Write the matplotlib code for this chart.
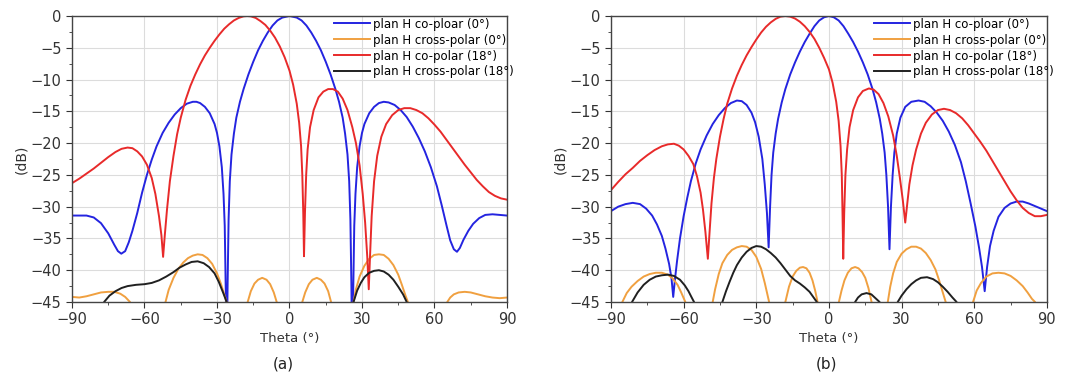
import numpy as np
import matplotlib.pyplot as plt
from matplotlib.ticker import MultipleLocator

# ---- panel (a) ----
a_co0_t = [-90, -87, -84, -81, -78, -75, -72.5, -71, -69.6, -68, -66.5, -65, -63, -61, -59, -57, -55, -52.5,
           -50, -47.5, -45, -42.5, -40, -38.5, -37, -35, -33, -31, -30, -29, -28, -27.3, -26.8, -26.3, -26,
           -25.6, -25.2, -24.7, -24, -23, -22, -20.5, -19, -17, -15, -13, -11, -9, -7, -5, -3, 0,
           3, 5, 7, 9, 11, 13, 15, 17, 19, 20.5, 22, 23, 24, 24.7, 25.2, 25.6, 26, 26.3, 26.8, 27.3,
           28, 29, 30, 31, 33, 35, 37, 39, 41, 43.5, 46, 48.5, 51, 53.5, 56, 58.5, 61, 63, 65, 66.5,
           68, 69.3, 70.5, 72, 74, 76, 78.5, 81, 84, 87, 90]
a_co0_db = [-31.4, -31.4, -31.4, -31.7, -32.6, -34.2, -36, -37, -37.4, -37, -35.6, -33.8, -31, -27.8, -25, -22.6, -20.5, -18.4,
            -16.8, -15.5, -14.5, -13.8, -13.5, -13.5, -13.7, -14.3, -15.3, -17, -18.4, -20.5, -23.8, -28, -33, -45, -55,
            -42, -32, -26, -21.8, -18.5, -16, -13.5, -11.5, -9.2, -7.2, -5.4, -3.9, -2.6, -1.5, -0.7, -0.25, 0,
            -0.25, -0.7, -1.5, -2.6, -3.9, -5.4, -7.2, -9.2, -11.5, -13.5, -16, -18.5, -21.8, -26, -32, -42, -55, -45, -33, -28,
            -23.8, -20.5, -18.4, -17, -15.3, -14.3, -13.7, -13.5, -13.6, -14, -14.8, -15.9, -17.4, -19.2, -21.3, -23.8, -26.8, -29.8, -33, -35.3,
            -36.7, -37.1, -36.5, -35.2, -33.8, -32.7, -31.8, -31.3, -31.2, -31.3, -31.4]

a_x0_t = [-90, -87, -84, -81, -78, -75, -72.5, -70, -68, -66, -64.5, -60,
          -52.5, -51.3, -50, -48, -46, -44, -42, -40, -38, -36, -34, -32, -30, -28.5, -27, -26, -25, -21,
          -18.5, -17.3, -16, -14.5, -13, -11.3, -9.5, -8, -6.5, -5.3, -4.3, 0,
          4.3, 5.3, 6.5, 8, 9.5, 11.3, 13, 14.5, 16, 17.2, 18.2, 22,
          25.5, 26.5, 27.5, 29, 31, 33, 35, 37, 39, 41, 43, 45, 46.5, 48, 49, 50, 57,
          64.3, 65.3, 66.5, 68, 70, 72.5, 75, 78, 81, 84, 87, 90]
a_x0_db = [-44.2, -44.3, -44.1, -43.8, -43.5, -43.4, -43.4, -43.7, -44.2, -45, -47, -60,
           -48, -45, -43.1, -41.2, -39.8, -38.8, -38.1, -37.7, -37.5, -37.6, -38.1, -39, -40.5, -42, -43.8, -45, -48, -60,
           -48, -45, -43.3, -42.1, -41.5, -41.2, -41.5, -42.2, -43.5, -45, -48, -60,
           -48, -45, -43.5, -42.2, -41.5, -41.2, -41.5, -42.1, -43.3, -45, -48, -60,
           -48, -45, -43, -41, -39.3, -38.2, -37.6, -37.5, -37.6, -38.2, -39.2, -40.7, -42.3, -44, -45, -48, -60,
           -48, -45, -44.3, -43.8, -43.5, -43.4, -43.5, -43.8, -44.1, -44.3, -44.4, -44.3]

a_co18_t = [-90, -87, -84, -81, -78, -75, -72, -69.5, -67, -65, -63, -61, -59, -57, -55.5, -54, -53, -52.3,
            -51.6, -50.7, -49.5, -48, -46.5, -45, -43, -41, -39, -37, -35, -33, -31, -29, -27, -25, -23,
            -21, -19, -17.5, -16, -14, -12, -10, -8, -6, -4, -2, 0, 1.5, 3, 4, 4.8, 5.3, 5.7, 6, 6.4,
            6.9, 7.5, 8.5, 10, 12, 14, 16, 18, 20, 22, 24, 26, 27.5, 29, 30.3, 31.3, 32.2, 32.8, 33.3,
            34, 35, 36.3, 38, 40, 42.5, 45, 47.5, 50, 52.5, 55, 57.5, 60, 62.5, 65, 67.5, 70, 72.5,
            75, 77.5, 80, 82.5, 85, 87.5, 90]
a_co18_db = [-26.3, -25.6, -24.8, -24, -23.1, -22.2, -21.4, -20.9, -20.7, -20.8, -21.3, -22.1, -23.4, -25.5, -28, -31.5, -34.5, -37.9,
             -34.5, -30.5, -26, -22, -18.6, -16, -13.2, -11, -9.2, -7.6, -6.2, -5, -3.9, -2.9, -2.0, -1.3, -0.7,
             -0.3, -0.05, 0, -0.05, -0.3, -0.8, -1.4, -2.3, -3.4, -4.8, -6.5, -8.6, -10.8, -13.8, -16.8, -20.5, -25, -31, -37.8, -31,
             -25, -21, -17.5, -14.8, -12.8, -11.9, -11.5, -11.5, -11.9, -13, -14.8, -17.5, -20, -23.5, -28, -32.5, -38, -43, -38,
             -31.5, -26, -22, -19, -17, -15.6, -14.8, -14.5, -14.5, -14.8, -15.3, -16.1, -17.1, -18.2, -19.5, -20.8, -22.1, -23.4,
             -24.6, -25.8, -26.8, -27.7, -28.3, -28.7, -28.9]

a_x18_t = [-90, -80, -76.7, -74.5, -72, -69.5, -67, -63.5, -60, -57, -54, -51, -48, -45.5, -43, -40.5, -38,
           -35.5, -33.3, -31, -29.3, -27.5, -26, -25, -20,
           20, 25.5, 26.5, 28, 29.5, 31, 33, 35, 37, 39, 41, 43, 45, 47, 48.5, 50, 60, 90]
a_x18_db = [-55, -48, -45, -44, -43.3, -42.8, -42.5, -42.3, -42.2, -42, -41.6, -41, -40.3, -39.6, -39.1, -38.7, -38.6,
            -38.9, -39.5, -40.5, -41.8, -43.5, -45, -50, -60,
            -60, -48, -45, -43.2, -42, -41.1, -40.4, -40.1, -40, -40.2, -40.7, -41.5, -42.6, -43.8, -45, -48, -60, -60]

# ---- panel (b) ----
b_co0_t = [-90, -87, -84, -81, -78, -75.5, -73, -71, -69, -67.5, -66, -65, -64.3, -63.6, -62.7, -61.5, -60,
           -58.5, -57, -55, -53, -50.5, -48, -45.5, -43, -40.5, -38, -36, -34, -32, -30.5, -29, -27.5,
           -26.5, -25.6, -24.9, -24.3, -23.7, -23, -22, -21, -19.5, -18, -16, -14, -12, -10, -8, -6, -4,
           -2, 0, 2, 4, 6, 8, 10, 12, 14, 16, 18, 19.5, 21, 22, 23, 23.7, 24.4, 25, 25.6, 26.3, 27,
           28, 29.5, 31.5, 34, 37, 39.5, 42, 44.5, 47, 49.5, 52, 54.5, 56.5, 58.5, 60.5, 62, 63.2,
           64.3, 65.3, 66.5, 68, 70, 72.5, 75, 77.5, 80, 82.5, 85, 87.5, 90]
b_co0_db = [-30.7, -30, -29.6, -29.4, -29.6, -30.3, -31.4, -32.8, -34.6, -36.6, -39, -41.3, -44.2, -41.5, -38.5, -35, -31.5,
            -28.6, -26, -23.2, -21, -18.8, -17, -15.6, -14.5, -13.7, -13.3, -13.4, -14, -15.2, -16.7, -19, -22.5,
            -26.5, -31, -36.4, -30, -25, -21.5, -18.5, -16.2, -13.6, -11.5, -9.2, -7.3, -5.6, -4.1, -2.8, -1.6, -0.7,
            -0.2, 0, -0.2, -0.7, -1.6, -2.8, -4.1, -5.6, -7.3, -9.2, -11.5, -13.6, -16.2, -18.5, -21.5, -25, -30, -36.7, -30, -25, -21.5,
            -18.5, -16, -14.3, -13.5, -13.3, -13.5, -14.2, -15.2, -16.5, -18.2, -20.3, -23, -26, -29.5, -33.2, -36.5, -39.5,
            -43.3, -39.5, -36.2, -33.8, -31.6, -30.2, -29.5, -29.2, -29.2, -29.5, -29.9, -30.3, -30.7]

b_x0_t = [-90, -86.5, -85.3, -83.5, -81.5, -79, -76.5, -74, -71.5, -69, -66.5, -64.5, -62.5, -61, -59.3, -58.3, -53,
          -49, -48, -47, -45.5, -44, -42, -40, -38, -36, -34, -32, -30, -28, -26.5, -25.3, -24.7, -23.7, -21.3,
          -19, -18, -16.5, -15, -13.5, -12, -10.7, -9.3, -8, -6.8, -5.7, -4.7, -3.7, 0,
          3.1, 4.1, 5.2, 6.4, 7.8, 9.3, 10.8, 12.2, 13.7, 15, 16.3, 17.6, 18.6, 21,
          23.3, 24.3, 25.3, 26.5, 28, 30, 32, 34, 36, 38, 40, 42, 44, 45.5, 47, 48.2, 49.2, 54,
          58.5, 59.5, 61, 62.8, 65, 67.5, 70, 72.5, 75, 77.5, 80, 82, 83.8, 85.1, 86, 90]
b_x0_db = [-55, -48, -45, -43.6, -42.6, -41.7, -41, -40.6, -40.4, -40.4, -40.7, -41.3, -42.3, -43.5, -45, -48, -60,
           -48, -45, -43, -40.6, -38.9, -37.6, -36.8, -36.4, -36.2, -36.3, -36.8, -37.9, -39.8, -42, -44, -45, -48, -55,
           -48, -45, -42.6, -41, -40.1, -39.6, -39.5, -39.7, -40.4, -41.6, -43.2, -45, -48, -60,
           -48, -45, -43.2, -41.6, -40.4, -39.7, -39.5, -39.7, -40.3, -41.2, -42.8, -45, -48, -55,
           -48, -45, -42.6, -40.5, -38.7, -37.4, -36.7, -36.3, -36.3, -36.6, -37.3, -38.4, -39.9, -41.6, -43.5, -45, -48, -60,
           -48, -45, -43.2, -42, -41, -40.5, -40.4, -40.5, -40.9, -41.6, -42.5, -43.5, -44.5, -45, -48, -55]

b_co18_t = [-90, -87, -84, -81, -78, -75, -72, -69, -66.5, -64, -62, -60, -58, -56, -54.5, -53, -52, -51, -50,
            -49.2, -48.5, -47.5, -46.5, -45, -43.5, -42, -40, -38, -36, -34, -32, -30, -28, -26, -24, -22,
            -20, -18, -16, -14, -12, -10, -8, -6, -4, -2, 0, 1.5, 3, 4, 4.8, 5.3, 5.6, 5.9, 6.3, 6.8,
            7.5, 8.5, 10, 12, 14, 16.5, 18.5, 20.5, 22.5, 24.5, 26.5, 28, 29.3, 30.5, 31.5, 32.2, 33.2,
            34.5, 36, 38, 40, 42.5, 45, 47.5, 50, 52.5, 55, 57.5, 60, 62.5, 65, 67.5, 70, 72.5, 75,
            77.5, 80, 82.5, 85, 87.5, 90]
b_co18_db = [-27.4, -26.1, -24.9, -23.9, -22.8, -21.9, -21.1, -20.5, -20.2, -20.1, -20.4, -21, -22, -23.3, -25.2, -27.8, -30.5, -34, -38.2,
             -33.5, -29.5, -25.5, -22.5, -19, -16.2, -13.8, -11.4, -9.4, -7.7, -6.2, -4.9, -3.7, -2.6, -1.7, -1.0, -0.45,
             -0.1, 0, -0.1, -0.4, -0.9, -1.6, -2.5, -3.6, -5, -6.6, -8.4, -10.5, -13.5, -16.5, -20.5, -25, -31, -38.2, -31, -25,
             -21, -17.5, -14.8, -12.8, -11.8, -11.4, -11.6, -12.3, -13.7, -15.8, -18.8, -22, -25.5, -29, -32.5, -30, -26.5,
             -23.5, -21, -18.5, -16.8, -15.5, -14.8, -14.6, -14.8, -15.3, -16.1, -17.2, -18.5, -19.8, -21.2, -22.8, -24.4, -26, -27.6,
             -29, -30.2, -31, -31.5, -31.5, -31.3]

b_x18_t = [-90, -83, -81.3, -79, -76.5, -74, -71.5, -69, -66.5, -64, -61.5, -59.5, -58, -56.8, -55.7, -54.5, -50,
           -45, -44, -42.5, -41, -39.5, -38, -36, -34, -32, -30, -28, -26, -24, -22, -20, -18, -16, -14, -12,
           -10, -8, -6.5, -5, -4, 3,
           9.8, 10.8, 12, 13.5, 15.5, 17.5, 19.2, 20.9, 22, 25,
           27.4, 28.4, 30, 32, 34, 36, 38, 40.5, 43, 45, 47, 49, 51, 52.7, 54, 60, 90]
b_x18_db = [-55, -48, -45, -43.5, -42.3, -41.5, -41, -40.8, -40.7, -40.9, -41.5, -42.4, -43.3, -44.2, -45, -48, -60,
            -48, -45, -43.3, -41.8, -40.4, -39.2, -38, -37.1, -36.5, -36.2, -36.3, -36.7, -37.3, -38, -38.9, -39.9, -40.9, -41.6, -42.1,
            -42.7, -43.4, -44.2, -45, -48, -60,
            -48, -45, -44.3, -43.8, -43.6, -43.8, -44.4, -45, -48, -55,
            -48, -45, -44, -43, -42.2, -41.6, -41.2, -41.1, -41.4, -41.9, -42.6, -43.4, -44.3, -45, -48, -60, -60]

labels = ['plan H co-ploar (0°)', 'plan H cross-polar (0°)',
          'plan H co-polar (18°)', 'plan H cross-polar (18°)']
colors = ['#2424e0', '#f0a040', '#e82a2a', '#202020']

panels = [
    ('(a)', [(a_co0_t, a_co0_db), (a_x0_t, a_x0_db), (a_co18_t, a_co18_db), (a_x18_t, a_x18_db)]),
    ('(b)', [(b_co0_t, b_co0_db), (b_x0_t, b_x0_db), (b_co18_t, b_co18_db), (b_x18_t, b_x18_db)]),
]
ax_rects = [[0.0671, 0.2053, 0.4054, 0.7526], [0.5694, 0.2053, 0.4063, 0.7526]]
tag_x = [0.264, 0.770]

fig = plt.figure(figsize=(10.73, 3.8), dpi=100)
for (tag, series), rect, tx in zip(panels, ax_rects, tag_x):
    ax = fig.add_axes(rect)
    for (t, db), c, lab in zip(series, colors, labels):
        ax.plot(t, db, color=c, linewidth=1.4, label=lab)
    ax.set_xlim(-90, 90)
    ax.set_ylim(-45, 0)
    ax.xaxis.set_major_locator(MultipleLocator(30))
    ax.xaxis.set_minor_locator(MultipleLocator(15))
    ax.yaxis.set_major_locator(MultipleLocator(5))
    ax.yaxis.set_minor_locator(MultipleLocator(2.5))
    ax.grid(True, which='major', color='#dcdcdc', linewidth=0.8)
    ax.tick_params(which='both', direction='out', colors='#333333', labelsize=10.5,
                   top=False, right=False)
    ax.tick_params(which='major', length=4)
    ax.tick_params(which='minor', length=2.5)
    for sp in ax.spines.values():
        sp.set_color('#444444')
        sp.set_linewidth(1.0)
    ax.set_xlabel('Theta (°)', fontsize=9.5, color='#333333', labelpad=3)
    ax.set_ylabel('(dB)', fontsize=10, color='#333333', labelpad=2)
    ax.legend(loc='upper right', bbox_to_anchor=(1.03, 1.015), frameon=False, fontsize=8.5,
              handlelength=3.0, handletextpad=0.3, labelspacing=0.25, borderaxespad=0.1)
    fig.text(tx, 0.03, tag, fontsize=11, ha='center', color='#222222')

fig.savefig('out.png', dpi=100)
